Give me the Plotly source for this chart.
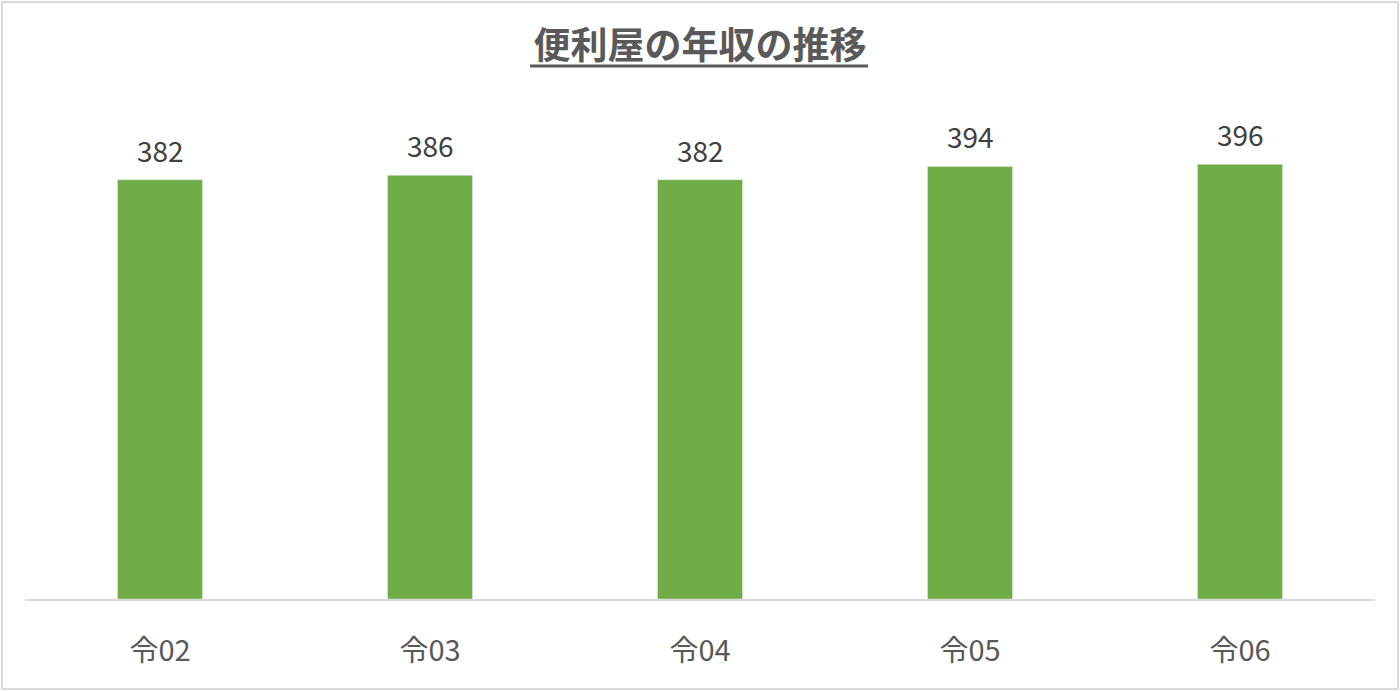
import plotly.graph_objects as go

years = ["令02", "令03", "令04", "令05", "令06"]
income = [382, 386, 382, 394, 396]

fig = go.Figure()
fig.add_trace(go.Bar(
    x=years, y=income,
    marker_color="#70AD47",
    cliponaxis=False,
))

# value labels above bars
for yr, v in zip(years, income):
    fig.add_annotation(x=yr, y=v, text=str(v), showarrow=False,
                       yanchor="bottom", yshift=8,
                       font=dict(size=28, color="#404040"))

# figure border + title underline
fig.add_shape(type="rect", xref="paper", yref="paper",
              x0=-0.017, x1=1.017, y0=-0.182, y1=1.2085,
              line=dict(color="#D9D9D9", width=2), layer="below")
fig.add_shape(type="line", xref="paper", yref="paper",
              x0=(530 - 25) / 1350, x1=(868 - 25) / 1350,
              y0=(599 - 66) / 494, y1=(599 - 66) / 494,
              line=dict(color="#595959", width=3))

fig.update_layout(
    width=1400, height=691,
    margin=dict(l=25, r=25, t=105, b=92),
    paper_bgcolor="white", plot_bgcolor="white",
    font=dict(family="Noto Sans CJK JP", color="#595959"),
    title=dict(text="<b>便利屋の年収の推移</b>", x=0.5, xanchor="center",
               y=1 - 46 / 691, yanchor="middle",
               font=dict(size=37, color="#595959")),
    bargap=0.685,
    showlegend=False,
    xaxis=dict(showline=True, linecolor="#D9D9D9", linewidth=2,
               ticks="", tickfont=dict(size=29, color="#595959"),
               ticklabelstandoff=25),
    yaxis=dict(range=[0, 450], visible=False),
)

fig.write_html("out.html", config={"displayModeBar": False},
               post_script="document.body.style.margin='0';")
